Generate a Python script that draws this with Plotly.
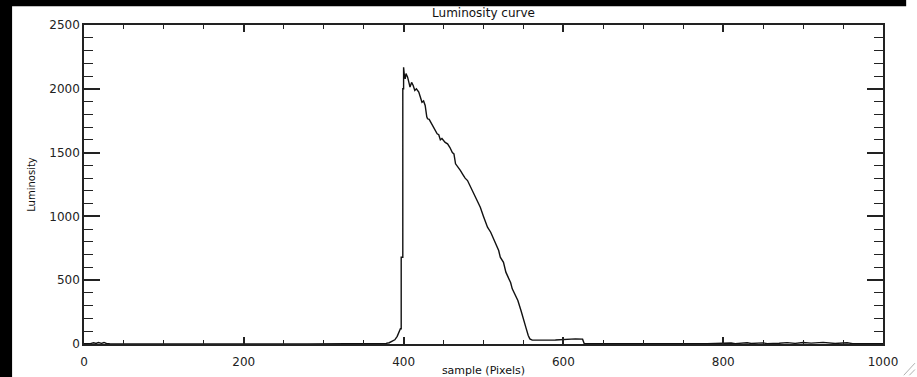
import plotly.graph_objects as go

# Sample positions (pixels) and measured luminosity along the scan line
sample = [0, 8, 12, 15, 18, 22, 25, 28, 32, 60, 120, 200, 280, 340, 370, 378,
          382, 386, 389, 392, 394, 396, 397, 397, 399, 399, 400, 400, 401, 402, 403, 405, 407,
          408, 410, 412, 414, 416, 419, 421, 423, 425, 427, 429, 430, 432, 434,
          436, 438, 440, 442, 444, 446, 448, 450, 452, 455, 458, 461, 463, 465,
          468, 471, 474, 477, 480, 484, 488, 492, 496, 500, 505, 509, 512, 515,
          519, 521, 525, 528, 531, 534, 536, 540, 543, 547, 550, 553, 556, 558,
          561, 570, 580, 590, 600, 605, 615, 624, 626, 650, 700, 780, 810, 815,
          830, 835, 850, 855, 870, 880, 890, 900, 910, 925, 940, 955, 962, 970,
          1000]
luminosity = [2, 3, 10, 4, 11, 5, 12, 4, 2, 1, 1, 1, 1, 1, 2, 5,
              10, 20, 33, 60, 90, 119, 119, 680, 680, 2000, 2000, 2169, 2100, 2078, 2120, 2091, 2040,
              2013, 2050, 2026, 1987, 2000, 1974, 1930, 1895, 1905, 1869, 1780, 1765, 1760, 1738,
              1720, 1699, 1680, 1647, 1640, 1600, 1610, 1590, 1580, 1569, 1540, 1500, 1490, 1412,
              1390, 1360, 1330, 1300, 1281, 1230, 1177, 1120, 1072, 1000, 915, 876, 830, 790,
              733, 680, 640, 563, 520, 480, 432, 380, 341, 260, 184, 130, 67, 40,
              30, 28, 30, 31, 35, 40, 40, 38, 4, 2, 2, 2, 8, 3,
              10, 4, 9, 3, 6, 11, 5, 12, 7, 13, 4, 10, 3, 2,
              2]

x_ticks = [0, 200, 400, 600, 800, 1000]
y_ticks = [0, 500, 1000, 1500, 2000, 2500]

ink = "#222222"
font_family = "DejaVu Sans"

fig = go.Figure()
fig.add_trace(go.Scatter(
    x=sample, y=luminosity, mode="lines",
    line=dict(color="#111111", width=1.4),
    hoverinfo="skip", showlegend=False,
))

axis_common = dict(
    showgrid=False, zeroline=False, automargin=False,
    showline=True, linecolor=ink, linewidth=1.5,
    mirror="ticks", ticks="inside", tickcolor=ink, tickwidth=1.5,
    tickfont=dict(family=font_family, size=12, color=ink),
)

fig.update_xaxes(
    range=[0, 1000], tickvals=x_ticks, ticklen=7, ticklabelstandoff=6,
    minor=dict(ticks="inside", dtick=50, ticklen=4, tickcolor=ink, tickwidth=1.2),
    title=dict(text="sample (Pixels)", font=dict(family=font_family, size=11, color="#111111"),
               standoff=0),
    **axis_common,
)
fig.update_yaxes(
    range=[0, 2500], tickvals=y_ticks, ticklen=16,
    minor=dict(ticks="inside", dtick=100, ticklen=9, tickcolor=ink, tickwidth=1.2),
    title=dict(text="Luminosity", font=dict(family=font_family, size=10, color="#111111"),
               standoff=12),
    **axis_common,
)

# Window frame: dark strips along the top and left edges
frame = dict(type="rect", xref="paper", yref="paper", fillcolor="black",
             line=dict(width=0), layer="above")
fig.add_shape(x0=-0.106, x1=1.029, y0=1.059, y1=1.09, **frame)
fig.add_shape(x0=-0.106, x1=-0.090, y0=-0.11, y1=1.09, **frame)

# Resize grip in the lower-right corner
grip = dict(type="line", xref="paper", yref="paper", line=dict(color="#b0b0b0", width=1))
fig.add_shape(x0=1.026, y0=-0.098, x1=1.040, y1=-0.060, **grip)
fig.add_shape(x0=1.033, y0=-0.098, x1=1.040, y1=-0.080, **grip)

fig.update_layout(
    width=917, height=377,
    margin=dict(l=84, r=34, t=25, b=33),
    paper_bgcolor="white", plot_bgcolor="white",
    title=dict(text="Luminosity curve", x=0.5, xanchor="center", xref="paper",
               y=1 - 13 / 377, yref="container", yanchor="middle",
               font=dict(family=font_family, size=12, color="#111111")),
)

fig.write_html("out.html")
